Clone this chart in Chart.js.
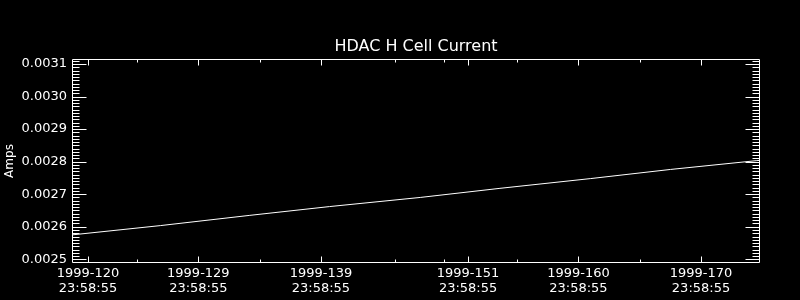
<!DOCTYPE html>
<html>
<head>
<meta charset="utf-8">
<script src="https://cdn.jsdelivr.net/npm/chart.js@4/dist/chart.umd.min.js"></script>
<style>
  html, body { margin: 0; padding: 0; background: #000; }
  #wrap { width: 800px; height: 300px; }
</style>
</head>
<body>
<div id="wrap"><canvas id="c" width="800" height="300"></canvas></div>
<script>
// ---- data ----
const days = [118.7, 125.9, 133.2, 139.7, 147.1, 153.6, 161.0, 167.5, 174.5, 174.8];
const amps = [0.002575, 0.0026035, 0.002635, 0.002662, 0.002690, 0.002718, 0.002748, 0.002776, 0.002803, 0.002804];
const xMajorDays = [120, 129, 139, 151, 160, 170];
const xMinorDays = [124, 134, 145, 149, 155, 165];
const yTicks = [0.0025, 0.0026, 0.0027, 0.0028, 0.0029, 0.0030, 0.0031];
const yearLabel = '1999';
const timeLabel = '23:58:55';
const titleText = 'HDAC H Cell Current';
const yTitle = 'Amps';

const X_MIN = 118.695, X_MAX = 174.81;
const Y_MIN = 0.0024886, Y_MAX = 0.0031154;

const boxTicks = {
  id: 'boxTicks',
  beforeDraw(chart) {
    const ctx = chart.ctx;
    ctx.save();
    ctx.fillStyle = '#000';
    ctx.fillRect(0, 0, chart.width, chart.height);
    ctx.restore();
  },
  afterDraw(chart) {
    const ctx = chart.ctx;
    const a = chart.chartArea;
    const xs = chart.scales.x, ys = chart.scales.y;
    const L = Math.round(a.left) + 0.5, R = Math.round(a.right) - 0.5;
    const T = Math.round(a.top) + 0.5, B = Math.round(a.bottom) - 0.5;
    ctx.save();
    ctx.strokeStyle = '#fff';
    ctx.lineWidth = 1;
    ctx.beginPath();
    ctx.rect(L, T, R - L, B - T);
    const xt = (v, len) => {
      const p = Math.round(xs.getPixelForValue(v)) + 0.5;
      ctx.moveTo(p, B); ctx.lineTo(p, B - len);
      ctx.moveTo(p, T); ctx.lineTo(p, T + len);
    };
    xMajorDays.forEach(v => xt(v, 6));
    xMinorDays.forEach(v => xt(v, 3));
    const yt = (v, len) => {
      const p = Math.round(ys.getPixelForValue(v)) + 0.5;
      if (p < T - 0.1 || p > B + 0.1) return;
      ctx.moveTo(L, p); ctx.lineTo(L + len, p);
      ctx.moveTo(R, p); ctx.lineTo(R - len, p);
    };
    yTicks.forEach(v => yt(v, 14));
    for (let i = 249; i <= 311; i++) {
      if (i % 10 !== 0) yt(i / 100000, 7);
    }
    ctx.stroke();
    ctx.restore();
  }
};

new Chart(document.getElementById('c'), {
  type: 'line',
  data: {
    datasets: [{
      data: days.map((d, i) => ({ x: d, y: amps[i] })),
      borderColor: '#fff',
      borderWidth: 1,
      pointRadius: 0,
      tension: 0,
      fill: false
    }]
  },
  options: {
    responsive: false,
    animation: false,
    devicePixelRatio: 1,
    layout: { padding: { left: 0, right: 40, top: 0, bottom: 0 } },
    plugins: {
      legend: { display: false },
      tooltip: { enabled: false },
      title: {
        display: true,
        text: titleText,
        color: '#fff',
        fullSize: false,
        font: { family: 'DejaVu Sans', size: 16, weight: 'normal', lineHeight: 1.2 },
        padding: { top: 37, bottom: 2.8 }
      }
    },
    scales: {
      x: {
        type: 'linear',
        min: X_MIN,
        max: X_MAX,
        afterBuildTicks: s => { s.ticks = xMajorDays.map(v => ({ value: v })); },
        afterFit: s => { s.height = 37; },
        grid: { display: false, drawTicks: false },
        border: { display: false },
        ticks: {
          color: '#fff',
          padding: 3,
          maxRotation: 0,
          autoSkip: false,
          font: { family: 'DejaVu Sans', size: 13, lineHeight: 1.15 },
          callback: v => [yearLabel + '-' + v, timeLabel]
        }
      },
      y: {
        type: 'linear',
        min: Y_MIN,
        max: Y_MAX,
        afterBuildTicks: s => { s.ticks = yTicks.map(v => ({ value: v })); },
        afterFit: s => { s.width = 72; },
        grid: { display: false, drawTicks: false },
        border: { display: false },
        ticks: {
          color: '#fff',
          padding: 5,
          font: { family: 'DejaVu Sans', size: 13 },
          callback: v => v.toFixed(4)
        },
        title: {
          display: true,
          text: yTitle,
          color: '#fff',
          font: { family: 'DejaVu Sans', size: 12 },
          padding: { top: 3, bottom: 0 }
        }
      }
    }
  },
  plugins: [boxTicks]
});
</script>
</body>
</html>
